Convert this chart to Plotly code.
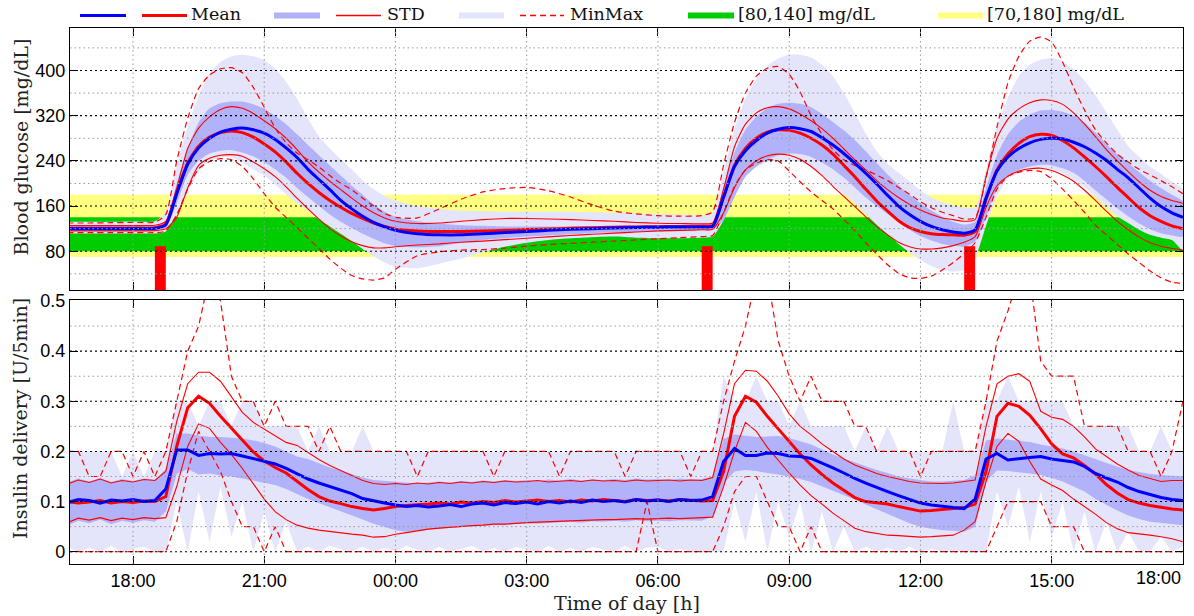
import plotly.graph_objects as go

# ======================= DATA =======================
# time axis: hours counted from midnight of day 1 (24 = 00:00, 42 = 18:00 next day)
x_ticks = [18, 21, 24, 27, 30, 33, 36, 39, 42]
x_labels = ["18:00", "21:00", "00:00", "03:00", "06:00", "09:00", "12:00", "15:00", "18:00"]
bg_ticks = [80, 160, 240, 320, 400]
bg_minor = [40, 120, 200, 280, 360, 440]
ins_ticks = [0, 0.1, 0.2, 0.3, 0.4, 0.5]
ins_labels = ["0", "0.1", "0.2", "0.3", "0.4", "0.5"]
ins_minor = [0.05, 0.15, 0.25, 0.35, 0.45]

target_outer = [70, 180]   # yellow zone mg/dL
target_inner = [80, 140]   # green zone mg/dL

meal_t = [18.5, 31.0, 37.0]     # meal start (h)
meal_dur = 0.25                 # h
meal_top = [89, 89, 89]         # bar top (mg/dL scale)

# ---- blood glucose (mg/dL) ----
bg_t = [16.5, 17.0, 17.5, 18.0, 18.5,
        18.75, 19.0, 19.25, 19.5, 19.75, 20.0, 20.25, 20.5, 20.75, 21.0, 21.25, 21.5, 21.75,
        22.0, 22.25, 22.5, 22.75, 23.0, 23.25, 23.5, 23.75, 24.0,
        24.5, 25.0, 25.5, 26.0, 26.5, 27.0, 27.5, 28.0, 28.5, 29.0, 29.5, 30.0, 30.5, 31.0,
        31.25, 31.5, 31.75, 32.0, 32.25, 32.5, 32.75, 33.0, 33.25, 33.5, 33.75,
        34.0, 34.25, 34.5, 34.75, 35.0, 35.25, 35.5, 35.75, 36.0, 36.25, 36.5, 36.75,
        37.0, 37.25, 37.5, 37.75, 38.0, 38.25, 38.5, 38.75, 39.0, 39.25, 39.5, 39.75,
        40.0, 40.25, 40.5, 40.75, 41.0, 41.25, 41.5, 41.75, 42.0]

bg_blue_mean = [120, 120, 120, 120, 120.5,
                127, 182, 234, 263, 280, 291, 296, 298, 295, 289, 278, 263, 246,
                225, 207, 189, 170, 155, 142, 131, 123, 117,
                111, 109, 109, 111, 113, 115, 117, 119, 120, 121, 122, 122.5, 123, 123,
                124, 176, 230, 258, 276, 289, 296, 299, 297, 292, 281,
                268, 253, 236, 218, 199, 179, 160, 145, 133, 124, 118, 114,
                112, 118, 174, 222, 247, 262, 272, 278, 280, 279, 273, 265,
                254, 241, 225, 210, 192, 174, 159, 148, 140]
bg_red_mean = [121, 121, 121, 121, 121.5,
               128, 184, 236, 266, 282, 290, 293, 290, 282, 270, 256, 238, 218,
               200, 184, 170, 158, 147, 138, 130, 124, 119,
               116, 115, 115, 116, 117, 118.5, 119.5, 120.5, 121.5, 122.5, 123, 123.5, 124, 124,
               125, 176, 232, 262, 280, 291, 295, 294, 289, 280, 268,
               252, 232, 212, 190, 169, 151, 134, 122, 115, 111, 109.5, 109,
               108.5, 115, 172, 224, 252, 271, 283, 287, 285, 276, 263, 247,
               230, 212, 193, 175, 157, 143, 133, 125, 120]
bg_blue_std_hi = [124, 124, 124, 124, 124.5,
                  133, 200, 262, 308, 333, 342, 345, 345, 340, 332, 320, 305, 287,
                  268, 250, 232, 214, 196, 180, 163, 150, 141,
                  133, 129, 126, 125, 124, 124, 124, 124, 124.5, 125, 125.5, 126, 127, 128,
                  130, 195, 255, 295, 318, 333, 341, 343, 341, 335, 323,
                  309, 294, 277, 257, 236, 216, 197, 180, 165, 152, 141, 132,
                  127, 132, 192, 250, 287, 309, 322, 329, 330, 327, 320, 308,
                  290, 270, 252, 236, 220, 205, 192, 180, 168]
bg_blue_std_lo = [116, 116, 116, 116, 116.5,
                  121, 165, 215, 240, 253, 258, 259, 255, 248, 238, 225, 210, 192,
                  176, 160, 145, 132, 121, 111, 102, 94, 89,
                  87, 89, 95, 100, 103, 106, 108, 110, 112, 113, 114, 115, 116, 117,
                  118, 135, 176, 212, 230, 242, 250, 253, 252, 247, 237,
                  225, 210, 193, 175, 160, 146, 132, 118, 107, 99, 93, 90,
                  88, 97, 140, 190, 213, 224, 230, 233, 232, 227, 219, 205,
                  188, 172, 156, 142, 129, 119, 112, 108, 106]
bg_red_std_hi = [125.5, 125.5, 125.5, 125.5, 126,
                 133, 192, 262, 298, 318, 331, 336, 333, 324, 311, 297, 280, 260,
                 238, 220, 204, 189, 174, 160, 148, 139, 133,
                 129, 130, 133, 136, 138, 138, 137, 136, 134.5, 133, 131, 129.5, 129, 128.5,
                 130, 190, 265, 305, 325, 334, 336, 332, 323, 311, 297,
                 280, 261, 242, 224, 205, 189, 175, 163, 153, 145, 139, 136,
                 133, 136, 212, 280, 314, 332, 343, 348, 347, 340, 325, 305,
                 283, 260, 240, 221, 203, 188, 177, 170, 165]
bg_red_std_lo = [116, 116, 116, 116, 116.5,
                 120, 140, 192, 232, 244.5, 250, 251, 248, 238, 226, 212, 194, 174,
                 155, 137, 120, 107, 97, 90, 86, 86, 88,
                 91, 93, 96, 98, 100.5, 103, 105.5, 108, 110, 112, 114, 116, 117, 118,
                 119, 148, 193, 224, 240, 249, 252, 250, 243, 230, 214,
                 195, 177, 159, 141, 124, 109, 96, 88, 84, 84, 86, 90,
                 96, 106, 158, 196, 213, 222, 226, 227, 223, 215, 204, 188,
                 170, 151, 133, 118, 105, 95, 89, 85, 82]
bg_blue_max = [132, 132, 132, 132.5, 133,
               150, 232, 300, 355, 395, 415, 425, 428, 425, 418, 403, 380, 350,
               315, 283, 262, 243, 225, 205, 190, 178, 170,
               160, 155, 152, 151, 150, 150, 150, 150, 149, 148, 147, 146, 145, 144,
               150, 220, 295, 350, 385, 408, 421, 428, 428, 423, 410,
               390, 360, 325, 288, 257, 235, 219, 204, 188, 175, 167, 161,
               157, 158, 225, 300, 352, 390, 410, 419, 422, 416, 402, 382,
               356, 326, 295, 266, 247, 230, 217, 203, 190]
bg_blue_min = [111.5, 111.5, 111.5, 111.5, 111.5,
               115, 145, 185, 222, 240, 246, 247, 237, 225, 214, 198, 181, 165,
               152, 136, 124, 111, 98, 84, 71, 60, 52,
               50, 58, 67, 78, 88, 95, 100, 103, 105, 106, 104, 103, 103, 104,
               106, 135, 180, 212, 229, 238, 241, 241, 238, 230, 214,
               197, 182, 165, 146, 127, 110, 93, 78, 65, 54, 47, 44,
               47, 68, 125, 178, 208, 219, 225, 227, 225, 218, 207, 194,
               177, 158, 142, 130, 118, 109, 104, 100, 82]
bg_red_max = [130, 130, 130.5, 131, 131.5,
              145, 240, 315, 368, 392, 403, 405, 396, 370, 335, 298, 272, 254,
              242, 229, 214, 200, 189, 174, 160, 147, 140,
              139, 155, 172, 185, 191, 193, 187, 176, 162, 151, 146, 143, 142, 143,
              150, 232, 308, 360, 390, 404, 407, 393, 362, 320, 287,
              260, 242, 232, 224, 215, 205, 193, 181, 168, 157, 149, 143,
              137, 139, 210, 300, 378, 425, 452, 459, 450, 415, 370, 330,
              295, 272, 252, 238, 225, 215, 205, 194, 182]
bg_red_min = [113, 113, 113, 113, 113,
              116, 145, 190, 226, 239, 244, 242, 230, 208, 182, 158, 140, 122,
              103, 85, 66, 50, 37, 31, 29, 33, 48,
              72, 79, 82, 83, 85.5, 89, 92, 94, 96, 98, 100, 102, 104, 106,
              108, 148, 195, 224, 236, 242, 240, 222, 203, 185, 170,
              155, 136, 117, 95, 75, 56, 41, 33, 32, 36, 47, 60,
              76, 95, 140, 190, 213, 220, 223, 221, 208, 190, 170, 149,
              126, 109, 92, 75, 60, 45, 33, 25, 23]

# ---- insulin delivery (U/5min), one value every 15 min from 16:30 to 18:00 (next day) ----
ins_t = [16.5 + 0.25 * k for k in range(103)]

ins_blue_mean = (
    [0.098, 0.104] +
    [0.102, 0.097, 0.103, 0.101] + [0.104, 0.100, 0.102, 0.125] +   # 17, 18
    [0.203, 0.203, 0.192, 0.196] + [0.195, 0.196, 0.191, 0.186] +   # 19, 20
    [0.181, 0.175, 0.166, 0.155] + [0.145, 0.137, 0.130, 0.122] +   # 21, 22
    [0.116, 0.106, 0.101, 0.097] + [0.093, 0.090, 0.092, 0.089] +   # 23, 00
    [0.091, 0.094, 0.090, 0.095] + [0.097, 0.093, 0.098, 0.096] +   # 01, 02
    [0.099, 0.095, 0.100, 0.097] + [0.101, 0.098, 0.103, 0.100] +   # 03, 04
    [0.102, 0.099, 0.104, 0.101] + [0.103, 0.100, 0.104, 0.102] +   # 05, 06
    [0.103, 0.110, 0.180, 0.206] + [0.192, 0.192, 0.197, 0.196] +   # 07, 08
    [0.191, 0.190, 0.186, 0.177] + [0.167, 0.157, 0.146, 0.137] +   # 09, 10
    [0.128, 0.120, 0.112, 0.104] + [0.097, 0.093, 0.090, 0.088] +   # 11, 12
    [0.086, 0.105, 0.185, 0.196] + [0.183, 0.186, 0.188, 0.190] +   # 13, 14
    [0.185, 0.182, 0.179, 0.170] + [0.156, 0.147, 0.139, 0.128] +   # 15, 16
    [0.120, 0.114, 0.108, 0.104] + [0.102])                         # 17, 18
ins_red_mean = (
    [0.100, 0.097] +
    [0.099, 0.102, 0.097, 0.100] + [0.098, 0.101, 0.100, 0.110] +
    [0.210, 0.287, 0.310, 0.296] + [0.270, 0.247, 0.222, 0.199] +
    [0.181, 0.168, 0.157, 0.140] + [0.124, 0.110, 0.101, 0.096] +
    [0.090, 0.086, 0.083, 0.086] + [0.090, 0.092, 0.093, 0.095] +
    [0.097, 0.095, 0.099, 0.097] + [0.100, 0.098, 0.102, 0.099] +
    [0.101, 0.103, 0.100, 0.102] + [0.099, 0.103, 0.101, 0.104] +
    [0.102, 0.100, 0.104, 0.102] + [0.103, 0.101, 0.104, 0.102] +
    [0.101, 0.102, 0.160, 0.270] + [0.310, 0.298, 0.270, 0.245] +
    [0.220, 0.195, 0.173, 0.154] + [0.137, 0.122, 0.108, 0.100] +
    [0.097, 0.095, 0.090, 0.086] + [0.081, 0.082, 0.084, 0.086] +
    [0.088, 0.095, 0.160, 0.270] + [0.296, 0.290, 0.272, 0.245] +
    [0.215, 0.195, 0.187, 0.172] + [0.155, 0.134, 0.117, 0.104] +
    [0.097, 0.092, 0.088, 0.085] + [0.083])
ins_red_std_hi = (
    [0.135, 0.143] +
    [0.138, 0.145, 0.137, 0.142] + [0.139, 0.144, 0.142, 0.160] +
    [0.260, 0.335, 0.358, 0.358] + [0.340, 0.310, 0.278, 0.258] +
    [0.245, 0.232, 0.218, 0.212] + [0.198, 0.184, 0.172, 0.162] +
    [0.152, 0.142, 0.136, 0.134] + [0.136, 0.134, 0.137, 0.135] +
    [0.138, 0.136, 0.139, 0.137] + [0.140, 0.138, 0.141, 0.139] +
    [0.140, 0.142, 0.139, 0.141] + [0.142, 0.140, 0.143, 0.141] +
    [0.142, 0.140, 0.143, 0.141] + [0.142, 0.143, 0.141, 0.143] +
    [0.142, 0.148, 0.235, 0.335] + [0.362, 0.360, 0.340, 0.310] +
    [0.275, 0.250, 0.233, 0.215] + [0.200, 0.185, 0.173, 0.164] +
    [0.156, 0.150, 0.145, 0.140] + [0.137, 0.136, 0.136, 0.137] +
    [0.140, 0.143, 0.250, 0.335] + [0.350, 0.355, 0.340, 0.280] +
    [0.268, 0.264, 0.250, 0.229] + [0.205, 0.190, 0.175, 0.163] +
    [0.152, 0.146, 0.140, 0.142] + [0.142])
ins_red_std_lo = (
    [0.058, 0.067] +
    [0.063, 0.068, 0.062, 0.067] + [0.064, 0.068, 0.066, 0.068] +
    [0.130, 0.210, 0.255, 0.246] + [0.218, 0.194, 0.166, 0.136] +
    [0.105, 0.080, 0.064, 0.053] + [0.047, 0.043, 0.040, 0.037] +
    [0.035, 0.033, 0.029, 0.030] + [0.035, 0.038, 0.042, 0.045] +
    [0.047, 0.049, 0.050, 0.052] + [0.053, 0.055, 0.055, 0.057] +
    [0.058, 0.059, 0.060, 0.061] + [0.062, 0.062, 0.063, 0.064] +
    [0.064, 0.065, 0.066, 0.065] + [0.066, 0.067, 0.066, 0.067] +
    [0.067, 0.069, 0.130, 0.200] + [0.258, 0.240, 0.208, 0.182] +
    [0.157, 0.133, 0.112, 0.095] + [0.077, 0.062, 0.047, 0.040] +
    [0.036, 0.033, 0.032, 0.031] + [0.029, 0.030, 0.031, 0.033] +
    [0.043, 0.060, 0.140, 0.210] + [0.236, 0.220, 0.180, 0.145] +
    [0.133, 0.122, 0.105, 0.090] + [0.075, 0.058, 0.046, 0.038] +
    [0.036, 0.033, 0.030, 0.026] + [0.020])
ins_blue_std_hi = (
    [0.138, 0.146] +
    [0.140, 0.147, 0.139, 0.145] + [0.141, 0.146, 0.143, 0.165] +
    [0.236, 0.236, 0.232, 0.229] + [0.229, 0.228, 0.226, 0.222] +
    [0.217, 0.210, 0.200, 0.190] + [0.185, 0.176, 0.168, 0.162] +
    [0.155, 0.148, 0.143, 0.141] + [0.140, 0.137, 0.136, 0.138] +
    [0.140, 0.138, 0.141, 0.139] + [0.142, 0.140, 0.143, 0.141] +
    [0.143, 0.141, 0.144, 0.142] + [0.145, 0.142, 0.144, 0.143] +
    [0.145, 0.143, 0.146, 0.144] + [0.145, 0.143, 0.146, 0.144] +
    [0.145, 0.150, 0.225, 0.234] + [0.232, 0.229, 0.230, 0.231] +
    [0.227, 0.221, 0.214, 0.204] + [0.194, 0.186, 0.178, 0.171] +
    [0.163, 0.157, 0.150, 0.146] + [0.143, 0.140, 0.140, 0.141] +
    [0.143, 0.152, 0.222, 0.226] + [0.224, 0.222, 0.219, 0.214] +
    [0.210, 0.206, 0.200, 0.193] + [0.185, 0.177, 0.170, 0.163] +
    [0.159, 0.155, 0.153, 0.151] + [0.150])
ins_blue_std_lo = (
    [0.052, 0.062] +
    [0.057, 0.064, 0.055, 0.062] + [0.058, 0.063, 0.060, 0.080] +
    [0.155, 0.165, 0.154, 0.156] + [0.152, 0.150, 0.146, 0.142] +
    [0.138, 0.133, 0.125, 0.115] + [0.105, 0.096, 0.088, 0.080] +
    [0.072, 0.064, 0.056, 0.049] + [0.043, 0.040, 0.042, 0.044] +
    [0.046, 0.048, 0.049, 0.051] + [0.052, 0.054, 0.053, 0.056] +
    [0.057, 0.056, 0.058, 0.059] + [0.060, 0.058, 0.061, 0.060] +
    [0.062, 0.060, 0.063, 0.061] + [0.062, 0.061, 0.063, 0.062] +
    [0.062, 0.070, 0.135, 0.160] + [0.163, 0.161, 0.157, 0.154] +
    [0.150, 0.145, 0.139, 0.131] + [0.122, 0.113, 0.104, 0.094] +
    [0.084, 0.075, 0.066, 0.057] + [0.050, 0.046, 0.043, 0.042] +
    [0.040, 0.050, 0.140, 0.162] + [0.161, 0.159, 0.156, 0.153] +
    [0.147, 0.140, 0.130, 0.120] + [0.105, 0.093, 0.082, 0.072] +
    [0.065, 0.060, 0.057, 0.055] + [0.053])
ins_blue_max = (
    [0.20, 0.20] +
    [0.20, 0.20, 0.20, 0.15] + [0.20, 0.15, 0.20, 0.20] +
    [0.30, 0.30, 0.25, 0.30] + [0.30, 0.25, 0.30, 0.30] +
    [0.25, 0.25, 0.25, 0.25] + [0.20, 0.25, 0.20, 0.20] +
    [0.20, 0.25, 0.20, 0.20] + [0.20, 0.20, 0.20, 0.20] +
    [0.20, 0.20, 0.20, 0.20] + [0.20, 0.20, 0.20, 0.20] +
    [0.20, 0.20, 0.20, 0.20] + [0.20, 0.20, 0.20, 0.20] +
    [0.20, 0.20, 0.20, 0.20] + [0.20, 0.20, 0.20, 0.20] +
    [0.20, 0.20, 0.35, 0.30] + [0.30, 0.35, 0.30, 0.30] +
    [0.25, 0.30, 0.25, 0.25] + [0.25, 0.25, 0.20, 0.25] +
    [0.20, 0.25, 0.20, 0.20] + [0.20, 0.20, 0.20, 0.30] +
    [0.20, 0.20, 0.30, 0.30] + [0.35, 0.30, 0.30, 0.30] +
    [0.30, 0.30, 0.25, 0.25] + [0.25, 0.25, 0.25, 0.25] +
    [0.20, 0.20, 0.25, 0.20] + [0.20])
ins_blue_min = (
    [0.010, 0.000] +
    [0.008, 0.000, 0.012, 0.000] + [0.005, 0.010, 0.000, 0.000] +
    [0.100, 0.000, 0.120, 0.020] + [0.130, 0.030, 0.100, 0.000] +
    [0.080, 0.000, 0.060, 0.000] + [0.010, 0.000, 0.012, 0.005] +
    [0.000, 0.010, 0.000, 0.008] + [0.000, 0.012, 0.004, 0.000] +
    [0.010, 0.000, 0.006, 0.012] + [0.000, 0.008, 0.000, 0.010] +
    [0.004, 0.000, 0.012, 0.000] + [0.008, 0.000, 0.010, 0.004] +
    [0.000, 0.012, 0.000, 0.008] + [0.010, 0.000, 0.006, 0.000] +
    [0.000, 0.000, 0.000, 0.100] + [0.020, 0.120, 0.000, 0.100] +
    [0.030, 0.100, 0.000, 0.080] + [0.000, 0.050, 0.000, 0.010] +
    [0.000, 0.008, 0.000, 0.010] + [0.000, 0.006, 0.000, 0.000] +
    [0.000, 0.000, 0.000, 0.120] + [0.050, 0.130, 0.020, 0.120] +
    [0.030, 0.100, 0.000, 0.080] + [0.000, 0.060, 0.000, 0.040] +
    [0.000, 0.000, 0.030, 0.000] + [0.010])
ins_red_max = (
    [0.20, 0.20] +
    [0.15, 0.15, 0.20, 0.20] + [0.15, 0.20, 0.15, 0.20] +
    [0.30, 0.40, 0.45, 0.55] + [0.50, 0.35, 0.30, 0.30] +
    [0.25, 0.30, 0.25, 0.25] + [0.25, 0.20, 0.25, 0.20] +
    [0.20, 0.20, 0.20, 0.20] + [0.20, 0.20, 0.15, 0.20] +
    [0.20, 0.20, 0.20, 0.20] + [0.20, 0.15, 0.20, 0.20] +
    [0.20, 0.20, 0.20, 0.15] + [0.20, 0.20, 0.20, 0.20] +
    [0.20, 0.15, 0.20, 0.20] + [0.20, 0.20, 0.20, 0.15] +
    [0.20, 0.20, 0.30, 0.38] + [0.45, 0.55, 0.55, 0.42] +
    [0.35, 0.30, 0.35, 0.30] + [0.30, 0.30, 0.25, 0.25] +
    [0.20, 0.20, 0.20, 0.20] + [0.15, 0.20, 0.20, 0.20] +
    [0.20, 0.20, 0.30, 0.42] + [0.48, 0.55, 0.55, 0.38] +
    [0.35, 0.35, 0.35, 0.25] + [0.25, 0.25, 0.25, 0.20] +
    [0.20, 0.20, 0.15, 0.20] + [0.30])
ins_red_min = (
    [0.00, 0.00] +
    [0.00, 0.00, 0.00, 0.00] + [0.00, 0.00, 0.00, 0.00] +
    [0.06, 0.16, 0.24, 0.20] + [0.16, 0.10, 0.05, 0.05] +
    [0.00, 0.05, 0.00, 0.00] + [0.00, 0.00, 0.00, 0.00] +
    [0.00, 0.00, 0.00, 0.00] + [0.00, 0.00, 0.00, 0.00] +
    [0.00, 0.00, 0.00, 0.00] + [0.00, 0.00, 0.00, 0.00] +
    [0.00, 0.00, 0.00, 0.00] + [0.00, 0.00, 0.00, 0.00] +
    [0.00, 0.00, 0.00, 0.10] + [0.00, 0.00, 0.00, 0.00] +
    [0.00, 0.00, 0.05, 0.12] + [0.15, 0.15, 0.10, 0.05] +
    [0.05, 0.00, 0.05, 0.00] + [0.00, 0.00, 0.00, 0.00] +
    [0.00, 0.00, 0.00, 0.00] + [0.00, 0.00, 0.00, 0.00] +
    [0.00, 0.00, 0.00, 0.05] + [0.10, 0.10, 0.10, 0.10] +
    [0.05, 0.05, 0.05, 0.00] + [0.00, 0.00, 0.00, 0.00] +
    [0.00, 0.00, 0.00, 0.00] + [0.00])

# sanity check of series lengths
for _n, _v in list(globals().items()):
    if _n.startswith("bg_") and isinstance(_v, list) and _n not in ("bg_ticks", "bg_minor"):
        if len(_v) != len(bg_t):
            raise ValueError(f"{_n}: {len(_v)} != {len(bg_t)}")
    if _n.startswith("ins_") and isinstance(_v, list) and _n not in ("ins_ticks", "ins_labels", "ins_minor"):
        if len(_v) != len(ins_t):
            raise ValueError(f"{_n}: {len(_v)} != {len(ins_t)}")

# ======================= STYLE =======================
BLUE = "#0000FF"
RED = "#FF0000"
BAND_DARK = "rgb(178,178,250)"
BAND_LIGHT = "rgb(228,228,251)"
YELLOW = "rgb(255,255,128)"
GREEN = "rgb(0,204,0)"
SERIF = "DejaVu Serif, serif"
SANS = "Liberation Sans, Arial, sans-serif"

x_range = [16.56, 42.002]
bg_range = [11.4, 475.2]
ins_range = [-0.0245, 0.502]

W, H = 1194, 616
ML, MR, MT, MB = 70, 11, 28, 52
PW, PH = W - ML - MR, H - MT - MB


def px_x(p):
    return (p - ML) / PW


def px_y(p):
    return (H - MB - p) / PH


fig = go.Figure()


def band(x, lo, hi, color, xa, ya, shape="linear"):
    fig.add_trace(go.Scatter(
        x=list(x) + list(x)[::-1], y=list(hi) + list(lo)[::-1],
        fill="toself", fillcolor=color, mode="lines",
        line=dict(width=0, shape=shape, smoothing=0.6 if shape == "spline" else None),
        hoverinfo="skip", showlegend=False, xaxis=xa, yaxis=ya))


def line(x, y, color, width, xa, ya, dash=None, shape="linear"):
    fig.add_trace(go.Scatter(
        x=x, y=y, mode="lines",
        line=dict(color=color, width=width, dash=dash, shape=shape,
                  smoothing=0.6 if shape == "spline" else None),
        hoverinfo="skip", showlegend=False, xaxis=xa, yaxis=ya))


# ---- top panel: blood glucose ----
band(bg_t, bg_blue_min, bg_blue_max, BAND_LIGHT, "x", "y", "spline")
band(bg_t, bg_blue_std_lo, bg_blue_std_hi, BAND_DARK, "x", "y", "spline")

# meal bars (rectangles from axis bottom to meal_top)
mx, my = [], []
for t0, top in zip(meal_t, meal_top):
    mx += [t0, t0, t0 + meal_dur, t0 + meal_dur, t0, None]
    my += [bg_range[0], top, top, bg_range[0], bg_range[0], None]
fig.add_trace(go.Scatter(x=mx, y=my, fill="toself", fillcolor=RED, mode="lines",
                         line=dict(width=0), hoverinfo="skip", showlegend=False,
                         xaxis="x", yaxis="y"))

line(bg_t, bg_red_max, RED, 1.2, "x", "y", dash="6px,4px", shape="spline")
line(bg_t, bg_red_min, RED, 1.2, "x", "y", dash="6px,4px", shape="spline")
line(bg_t, bg_red_std_hi, RED, 1.1, "x", "y", shape="spline")
line(bg_t, bg_red_std_lo, RED, 1.1, "x", "y", shape="spline")
line(bg_t, bg_red_mean, RED, 3, "x", "y", shape="spline")
line(bg_t, bg_blue_mean, BLUE, 3, "x", "y", shape="spline")

# ---- bottom panel: insulin ----
band(ins_t, ins_blue_min, ins_blue_max, BAND_LIGHT, "x2", "y2")
band(ins_t, ins_blue_std_lo, ins_blue_std_hi, BAND_DARK, "x2", "y2")
line(ins_t, ins_red_max, RED, 1.2, "x2", "y2", dash="6px,4px")
line(ins_t, ins_red_min, RED, 1.2, "x2", "y2", dash="6px,4px")
line(ins_t, ins_red_std_hi, RED, 1.1, "x2", "y2")
line(ins_t, ins_red_std_lo, RED, 1.1, "x2", "y2")
line(ins_t, ins_red_mean, RED, 3, "x2", "y2")
line(ins_t, ins_blue_mean, BLUE, 3, "x2", "y2")

# ======================= SHAPES =======================
shapes = []
# target zones (below traces)
shapes.append(dict(type="rect", xref="x domain", yref="y", x0=0, x1=1,
                   y0=target_outer[0], y1=target_outer[1], fillcolor=YELLOW,
                   line=dict(width=0), layer="below"))
shapes.append(dict(type="rect", xref="x domain", yref="y", x0=0, x1=1,
                   y0=target_inner[0], y1=target_inner[1], fillcolor=GREEN,
                   line=dict(width=0), layer="below"))

MAJ = dict(color="black", width=1.1, dash="2px,3px")
MIN = dict(color="#9a9a9a", width=1, dash="1.5px,3px")
VER = dict(color="#9a9a9a", width=1, dash="1.5px,3px")
for v in bg_ticks:
    shapes.append(dict(type="line", xref="x domain", yref="y", x0=0, x1=1, y0=v, y1=v,
                       line=MAJ, layer="above"))
for v in bg_minor:
    shapes.append(dict(type="line", xref="x domain", yref="y", x0=0, x1=1, y0=v, y1=v,
                       line=MIN, layer="above"))
for v in ins_ticks[:-1]:
    shapes.append(dict(type="line", xref="x2 domain", yref="y2", x0=0, x1=1, y0=v, y1=v,
                       line=MAJ, layer="above"))
for v in ins_minor:
    shapes.append(dict(type="line", xref="x2 domain", yref="y2", x0=0, x1=1, y0=v, y1=v,
                       line=MIN, layer="above"))
for v in x_ticks[:-1]:
    shapes.append(dict(type="line", xref="x", yref="y domain", x0=v, x1=v, y0=0, y1=1,
                       line=VER, layer="above"))
    shapes.append(dict(type="line", xref="x2", yref="y2 domain", x0=v, x1=v, y0=0, y1=1,
                       line=VER, layer="above"))

# ---- legend (drawn in paper coordinates) ----
LY = px_y(15.5)
HALF = 3.0 / PH
annotations = []


def leg_line(x0, x1, color, width, dash=None):
    ln = dict(color=color, width=width)
    if dash:
        ln["dash"] = dash
    shapes.append(dict(type="line", xref="paper", yref="paper", x0=px_x(x0), x1=px_x(x1),
                       y0=LY, y1=LY, line=ln, layer="above"))


def leg_rect(x0, x1, color):
    shapes.append(dict(type="rect", xref="paper", yref="paper", x0=px_x(x0), x1=px_x(x1),
                       y0=LY - HALF, y1=LY + HALF, fillcolor=color, line=dict(width=0)))


def leg_text(x0, text):
    annotations.append(dict(xref="paper", yref="paper", x=px_x(x0), y=LY + 1.0 / PH,
                            xanchor="left", yanchor="middle", showarrow=False, text=text,
                            font=dict(family=SERIF, size=17.5, color="#111")))


leg_line(80, 126, BLUE, 3)
leg_line(142, 187, RED, 3)
leg_text(189, "Mean")
leg_rect(274, 320, BAND_DARK)
leg_line(336, 381, RED, 1.4)
leg_text(385, "STD")
leg_rect(459, 504, BAND_LIGHT)
leg_line(520, 564, RED, 1.4, dash="6px,4px")
leg_text(568, "MinMax")
leg_rect(688, 734, GREEN)
leg_text(736, "[80,140] mg/dL")
leg_rect(938, 983, YELLOW)
leg_text(985, "[70,180] mg/dL")

# ---- axis titles ----
annotations.append(dict(xref="paper", yref="paper", x=px_x(20), y=px_y(147.5), textangle=-90,
                        xanchor="center", yanchor="middle", showarrow=False,
                        text="Blood glucose [mg/dL]", font=dict(family=SERIF, size=19, color="#222")))
annotations.append(dict(xref="paper", yref="paper", x=px_x(20), y=px_y(419), textangle=-90,
                        xanchor="center", yanchor="middle", showarrow=False,
                        text="Insulin delivery [U/5min]", font=dict(family=SERIF, size=19, color="#222")))
annotations.append(dict(xref="paper", yref="paper", x=0.5, y=px_y(603),
                        xanchor="center", yanchor="middle", showarrow=False,
                        text="Time of day [h]", font=dict(family=SERIF, size=19, color="#222")))
# last tick label, kept inside the figure like the original
annotations.append(dict(xref="paper", yref="paper", x=1.0, y=px_y(578),
                        xanchor="right", yanchor="middle", showarrow=False,
                        text=x_labels[-1], font=dict(family=SANS, size=18, color="black")))

axis_common = dict(showline=True, linecolor="black", linewidth=1.3, mirror="ticks",
                   ticks="inside", ticklen=8, tickcolor="black", tickwidth=1,
                   showgrid=False, zeroline=False,
                   tickfont=dict(family=SANS, size=18, color="black"))

fig.update_layout(
    width=W, height=H,
    margin=dict(l=ML, r=MR, t=MT, b=MB),
    paper_bgcolor="white", plot_bgcolor="white",
    showlegend=False,
    xaxis=dict(domain=[0, 1], anchor="y", range=x_range, tickvals=x_ticks,
               showticklabels=False, **axis_common),
    yaxis=dict(domain=[px_y(290), 1], anchor="x", range=bg_range, tickvals=bg_ticks,
               **axis_common),
    xaxis2=dict(domain=[0, 1], anchor="y2", range=x_range, tickvals=x_ticks,
                ticktext=x_labels[:-1] + [""], matches="x", **axis_common),
    yaxis2=dict(domain=[0, px_y(300)], anchor="x2", range=ins_range, tickvals=ins_ticks,
                ticktext=ins_labels, **axis_common),
    shapes=shapes,
    annotations=annotations,
)

fig.write_html("out.html")
